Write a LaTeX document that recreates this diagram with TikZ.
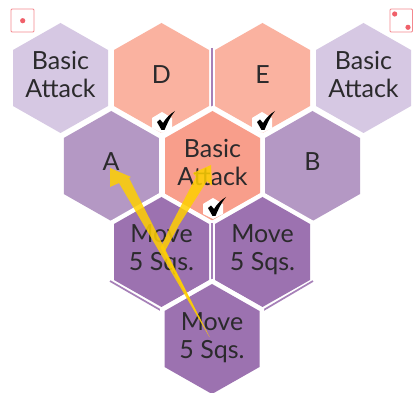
\documentclass[tikz,border=0pt]{standalone}
\usepackage{fontspec}
\setmainfont{Lato}
\definecolor{lightpurple}{HTML}{D6C8E3}
\definecolor{midpurple}{HTML}{B498C4}
\definecolor{darkpurple}{HTML}{9C72B0}
\definecolor{lightsalmon}{HTML}{FAB2A0}
\definecolor{midsalmon}{HTML}{F89E8B}
\definecolor{arrowyellow}{HTML}{FFD000}
\definecolor{dicered}{HTML}{F0606A}
\definecolor{inktext}{HTML}{2B2A2C}
\newcommand{\hexpath}[2]{(#1,#2-55) -- (#1+47.5,#2-28) -- (#1+47.5,#2+28) -- (#1,#2+55) -- (#1-47.5,#2+28) -- (#1-47.5,#2-28) -- cycle}
\newcommand{\gaphex}[3]{\draw[white,line width=9pt,line join=miter] \hexpath{#1}{#2}; \fill[#3] \hexpath{#1}{#2};}
\tikzset{
 x=1pt,y=-1pt,
 hexlabel/.style={text=inktext,font=\fontsize{25}{28}\selectfont,align=center,inner sep=0pt},
 purpleline/.style={draw=darkpurple!90,line width=1.7pt},
 dicebox/.style={draw=dicered!75,line width=.9pt,rounded corners=1pt},
 dicedot/.style={fill=dicered},
 arrowfill/.style={fill=arrowyellow,opacity=.85},
}
\begin{document}
\begin{tikzpicture}
\useasboundingbox (0,0) rectangle (413,393);
\fill[white] (0,0) rectangle (413,393);
% hexagons
\fill[lightpurple] \hexpath{60.5}{78};
\fill[lightpurple] \hexpath{363.5}{78};
\fill[lightsalmon] \hexpath{161.5}{78};
\fill[lightsalmon] \hexpath{262.5}{78};
\draw[purpleline] (212,48) -- (212,108);
\gaphex{111.25}{166}{midpurple}
\gaphex{312.5}{166}{midpurple}
\gaphex{212.5}{166}{midsalmon}
\gaphex{161.5}{252}{darkpurple}
\gaphex{262.5}{252}{darkpurple}
\draw[purpleline] (212,223) -- (212,282);
\draw[purpleline] (110,281) -- (162,311);
\draw[purpleline] (313,281) -- (262,311);
\gaphex{212}{339}{darkpurple}
% dice
\draw[dicebox] (11,9) rectangle (34,32);
\fill[dicedot] (22.7,20.7) circle (2.6);
\draw[dicebox] (390,9) rectangle (412.5,32);
\fill[dicedot] (394.7,14) circle (2.6);
\fill[dicedot] (408,27.3) circle (2.6);
% labels
\node[hexlabel] (n1) at (60.5,74) {Basic\\Attack};
\node[hexlabel] (n2) at (161.5,75) {D};
\node[hexlabel] (n3) at (262.5,75) {E};
\node[hexlabel] (n4) at (363.5,74) {Basic\\Attack};
\node[hexlabel] (n5) at (111,162) {A};
\node[hexlabel] (n6) at (212.5,162) {Basic\\Attack};
\node[hexlabel] (n7) at (312.5,162) {B};
\node[hexlabel] (n8) at (161.5,250) {Move\\5 Sqs.};
\node[hexlabel] (n9) at (262.5,250) {Move\\5 Sqs.};
\node[hexlabel] (n10) at (212,338) {Move\\5 Sqs.};
% check badges
\foreach \cx/\cy in {162/122,262/122,213/208}{
  \fill[white] (\cx,\cy-10) -- (\cx+10,\cy-4) -- (\cx+10,\cy+6) -- (\cx,\cy+11) -- (\cx-10,\cy+6) -- (\cx-10,\cy-4) -- cycle;
  \fill[black] (\cx-5,\cy) -- (\cx-2,\cy-2.5) -- (\cx+1,\cy+1) .. controls (\cx+4,\cy-4) and (\cx+8,\cy-8) .. (\cx+13,\cy-11) .. controls (\cx+8,\cy-5) and (\cx+5,\cy+2) .. (\cx+2.5,\cy+8) -- (\cx-0.5,\cy+8) -- cycle;
}
% arrows
\coordinate (tail) at (209.5,337);
\fill[arrowfill] (tail) -- (119,183) -- (110,187) -- (110,168) -- (131,177) -- (129,178) -- cycle;
\fill[arrowfill] (tail) -- (165,251) -- (179,225) -- (207,181) -- (212,186) -- (211,165) -- (193,173) -- (196,177) -- (171,225) -- (160.7,247.7) -- cycle;
\end{tikzpicture}
\end{document}
